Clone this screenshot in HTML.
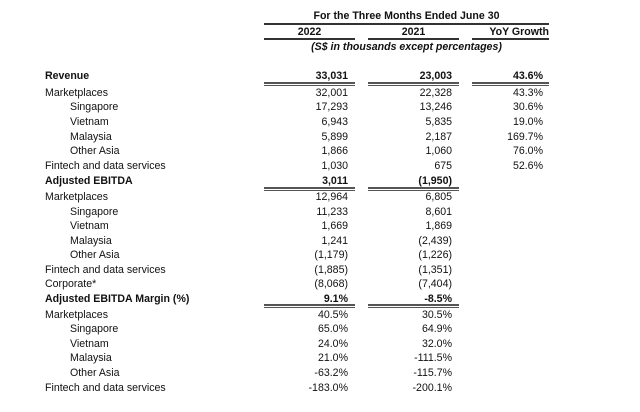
<!DOCTYPE html><html><head><style>
body{margin:0;width:640px;height:412px;background:#fff;position:relative;font-family:"Liberation Sans",Arial,sans-serif;font-size:10.6px;color:#111;overflow:hidden}
.r{position:absolute;height:14px;line-height:14px;white-space:nowrap}
.l{left:45px}.i{left:70px}
.a{right:292px;text-align:right}.b{right:188px;text-align:right}.c{right:97px;text-align:right}
.bd{font-weight:bold}
.ln{position:absolute;height:2px;background:#333}
.dl{position:absolute;height:1px;border-top:2px solid #555;border-bottom:1px solid #555;height:1px}
</style></head><body>
<div class="r bd" style="left:264px;width:285px;text-align:center;top:9px">For the Three Months Ended June 30</div>
<div class="ln" style="left:264px;width:285px;top:23px"></div>
<div class="r bd" style="left:264px;width:91px;text-align:center;top:25px">2022</div>
<div class="r bd" style="left:368px;width:91px;text-align:center;top:25px">2021</div>
<div class="r bd" style="left:472px;width:77px;text-align:right;top:25px;padding-right:0">YoY Growth</div>
<div class="ln" style="left:264px;width:91px;top:38px"></div>
<div class="ln" style="left:368px;width:91px;top:38px"></div>
<div class="ln" style="left:472px;width:77px;top:38px"></div>
<div class="r bd" style="left:264px;width:285px;text-align:center;top:40px;font-style:italic">(S$ in thousands except percentages)</div>

<div class="r l bd" style="top:69px">Revenue</div><div class="r a bd" style="top:69px">33,031</div><div class="r b bd" style="top:69px">23,003</div><div class="r c bd" style="top:69px">43.6%</div>
<div class="dl" style="left:264px;width:91px;top:82px"></div><div class="dl" style="left:368px;width:91px;top:82px"></div><div class="dl" style="left:472px;width:77px;top:82px"></div>
<div class="r l" style="top:86px">Marketplaces</div><div class="r a" style="top:86px">32,001</div><div class="r b" style="top:86px">22,328</div><div class="r c" style="top:86px">43.3%</div>
<div class="r i" style="top:100px">Singapore</div><div class="r a" style="top:100px">17,293</div><div class="r b" style="top:100px">13,246</div><div class="r c" style="top:100px">30.6%</div>
<div class="r i" style="top:115px">Vietnam</div><div class="r a" style="top:115px">6,943</div><div class="r b" style="top:115px">5,835</div><div class="r c" style="top:115px">19.0%</div>
<div class="r i" style="top:130px">Malaysia</div><div class="r a" style="top:130px">5,899</div><div class="r b" style="top:130px">2,187</div><div class="r c" style="top:130px">169.7%</div>
<div class="r i" style="top:144px">Other Asia</div><div class="r a" style="top:144px">1,866</div><div class="r b" style="top:144px">1,060</div><div class="r c" style="top:144px">76.0%</div>
<div class="r l" style="top:159px">Fintech and data services</div><div class="r a" style="top:159px">1,030</div><div class="r b" style="top:159px">675</div><div class="r c" style="top:159px">52.6%</div>
<div class="r l bd" style="top:174px">Adjusted EBITDA</div><div class="r a bd" style="top:174px">3,011</div><div class="r b bd" style="top:174px">(1,950)</div>
<div class="dl" style="left:264px;width:91px;top:187px"></div><div class="dl" style="left:368px;width:91px;top:187px"></div>
<div class="r l" style="top:190px">Marketplaces</div><div class="r a" style="top:190px">12,964</div><div class="r b" style="top:190px">6,805</div>
<div class="r i" style="top:205px">Singapore</div><div class="r a" style="top:205px">11,233</div><div class="r b" style="top:205px">8,601</div>
<div class="r i" style="top:219px">Vietnam</div><div class="r a" style="top:219px">1,669</div><div class="r b" style="top:219px">1,869</div>
<div class="r i" style="top:234px">Malaysia</div><div class="r a" style="top:234px">1,241</div><div class="r b" style="top:234px">(2,439)</div>
<div class="r i" style="top:248px">Other Asia</div><div class="r a" style="top:248px">(1,179)</div><div class="r b" style="top:248px">(1,226)</div>
<div class="r l" style="top:263px">Fintech and data services</div><div class="r a" style="top:263px">(1,885)</div><div class="r b" style="top:263px">(1,351)</div>
<div class="r l" style="top:277px">Corporate*</div><div class="r a" style="top:277px">(8,068)</div><div class="r b" style="top:277px">(7,404)</div>
<div class="r l bd" style="top:292px">Adjusted EBITDA Margin (%)</div><div class="r a bd" style="top:292px">9.1%</div><div class="r b bd" style="top:292px">-8.5%</div>
<div class="dl" style="left:264px;width:91px;top:304px"></div><div class="dl" style="left:368px;width:91px;top:304px"></div>
<div class="r l" style="top:308px">Marketplaces</div><div class="r a" style="top:308px">40.5%</div><div class="r b" style="top:308px">30.5%</div>
<div class="r i" style="top:322px">Singapore</div><div class="r a" style="top:322px">65.0%</div><div class="r b" style="top:322px">64.9%</div>
<div class="r i" style="top:337px">Vietnam</div><div class="r a" style="top:337px">24.0%</div><div class="r b" style="top:337px">32.0%</div>
<div class="r i" style="top:351px">Malaysia</div><div class="r a" style="top:351px">21.0%</div><div class="r b" style="top:351px">-111.5%</div>
<div class="r i" style="top:366px">Other Asia</div><div class="r a" style="top:366px">-63.2%</div><div class="r b" style="top:366px">-115.7%</div>
<div class="r l" style="top:381px">Fintech and data services</div><div class="r a" style="top:381px">-183.0%</div><div class="r b" style="top:381px">-200.1%</div>
</body></html>
